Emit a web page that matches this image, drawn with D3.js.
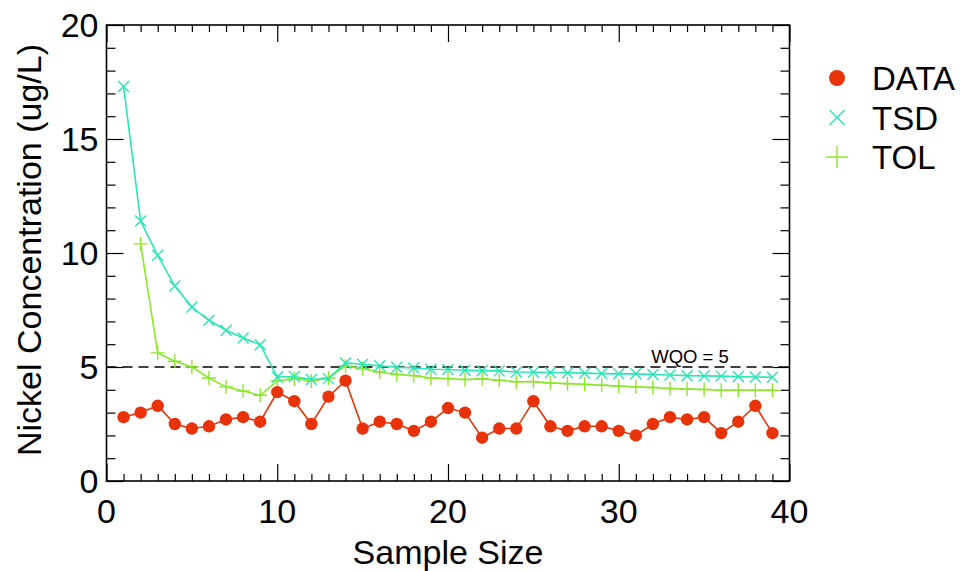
<!DOCTYPE html>
<html><head><meta charset="utf-8">
<script src="https://cdn.jsdelivr.net/npm/d3@7"></script>
<style>body{margin:0;background:#fff}svg{display:block;font-family:"Liberation Sans",Arial,sans-serif}</style>
</head><body><svg id="c" width="970" height="571"></svg>
<script>
const sampleSize = d3.range(1, 40);
const dataVals = [2.8,3.0,3.3,2.5,2.3,2.4,2.7,2.8,2.6,3.9,3.5,2.5,3.7,4.4,2.3,2.6,2.5,2.2,2.6,3.2,3.0,1.9,2.3,2.3,3.5,2.4,2.2,2.4,2.4,2.2,2.0,2.5,2.8,2.7,2.8,2.1,2.6,3.3,2.1];
const tsdVals = [17.3,11.4,9.9,8.55,7.63,7.05,6.61,6.27,5.98,4.56,4.58,4.45,4.49,5.18,5.12,5.05,4.99,4.96,4.90,4.89,4.86,4.84,4.83,4.78,4.77,4.76,4.75,4.73,4.71,4.70,4.70,4.67,4.65,4.62,4.61,4.60,4.58,4.56,4.55];
const tolX = d3.range(2, 40);
const tolVals = [10.4,5.62,5.25,5.0,4.52,4.13,3.95,3.76,4.39,4.49,4.39,4.52,5.05,4.93,4.78,4.67,4.62,4.52,4.49,4.45,4.48,4.42,4.35,4.36,4.30,4.27,4.24,4.20,4.16,4.13,4.10,4.06,4.03,4.01,3.98,3.98,3.98,3.98];
const wqo = 5;
const xTicks = [0,10,20,30,40];
const yTicks = [0,5,10,15,20];
const seriesNames = ["DATA","TSD","TOL"];

const colors = {DATA:"#e8320a", TSD:"#2ae6b6", TOL:"#8ee62c"};
const svg = d3.select("#c");
const L=106.5, R=789.5, T=25, B=481;
const x = d3.scaleLinear().domain([0,40]).range([L,R]);
const y = d3.scaleLinear().domain([0,20]).range([B,T]);

// WQO dashed line
svg.append("line").attr("x1",x(0)).attr("x2",x(40)).attr("y1",y(wqo)).attr("y2",y(wqo))
  .attr("stroke","#000").attr("stroke-width",1.6).attr("stroke-dasharray","10,6");
svg.append("text").attr("x",x(31.9)).attr("y",y(wqo)-4).attr("font-size",18.5).text("WQO = " + wqo);

// axes with ticks all around
function tickAxis(axisFn, scale, minorVals, majorVals, transform, lenMinor, lenMajor){
  const gm = svg.append("g").attr("transform",transform)
    .call(axisFn(scale).tickValues(minorVals.filter(v=>!majorVals.includes(v))).tickSize(lenMinor).tickFormat(""));
  gm.select(".domain").remove();
  const gM = svg.append("g").attr("transform",transform)
    .call(axisFn(scale).tickValues(majorVals).tickSize(lenMajor).tickFormat(""));
  gM.select(".domain").remove();
  svg.selectAll("g .tick line").attr("stroke","#000").attr("stroke-width",1.2);
}
const xMinor = d3.range(0,41), yMinor = d3.range(0,21);
tickAxis(d3.axisTop, x, xMinor, xTicks, `translate(0,${B})`, 7, 17);
tickAxis(d3.axisBottom, x, xMinor, xTicks, `translate(0,${T})`, 7, 17);
tickAxis(d3.axisRight, y, yMinor, yTicks, `translate(${L},0)`, 9, 17);
tickAxis(d3.axisLeft, y, yMinor, yTicks, `translate(${R},0)`, 9, 17);

svg.append("rect").attr("x",L).attr("y",T).attr("width",R-L).attr("height",B-T)
  .attr("fill","none").attr("stroke","#000").attr("stroke-width",1.6);

// tick labels
svg.selectAll(".xl").data(xTicks).enter().append("text").attr("x",d=>x(d)).attr("y",B+42)
  .attr("text-anchor","middle").attr("font-size",34).text(d=>d);
svg.selectAll(".yl").data(yTicks).enter().append("text").attr("x",L-8).attr("y",d=>y(d)+12)
  .attr("text-anchor","end").attr("font-size",34).text(d=>d);
svg.append("text").attr("x",(L+R)/2).attr("y",564).attr("text-anchor","middle").attr("font-size",34).text("Sample Size");
svg.append("text").attr("transform",`translate(41,250) rotate(-90)`).attr("text-anchor","middle")
  .attr("font-size",34).text("Nickel Concentration (ug/L)");

const line = d3.line().x(d=>x(d[0])).y(d=>y(d[1]));
const dataPts = sampleSize.map((s,i)=>[s,dataVals[i]]);
const tsdPts = sampleSize.map((s,i)=>[s,tsdVals[i]]);
const tolPts = tolX.map((s,i)=>[s,tolVals[i]]);

function crossPath(cx,cy,h){return `M${cx-h},${cy-h}L${cx+h},${cy+h}M${cx-h},${cy+h}L${cx+h},${cy-h}`;}
function plusPath(cx,cy,h){return `M${cx-h},${cy}L${cx+h},${cy}M${cx},${cy-h}L${cx},${cy+h}`;}

// TOL
svg.append("path").attr("d",line(tolPts)).attr("fill","none").attr("stroke",colors.TOL).attr("stroke-width",1.6);
svg.selectAll(".tolm").data(tolPts).enter().append("path").attr("d",d=>plusPath(x(d[0]),y(d[1]),7))
  .attr("stroke",colors.TOL).attr("stroke-width",1.4).attr("fill","none");
// TSD
svg.append("path").attr("d",line(tsdPts)).attr("fill","none").attr("stroke",colors.TSD).attr("stroke-width",1.6);
svg.selectAll(".tsdm").data(tsdPts).enter().append("path").attr("d",d=>crossPath(x(d[0]),y(d[1]),5.5))
  .attr("stroke",colors.TSD).attr("stroke-width",1.4).attr("fill","none");
// DATA
svg.append("path").attr("d",line(dataPts)).attr("fill","none").attr("stroke",colors.DATA).attr("stroke-width",1.6);
svg.selectAll(".dm").data(dataPts).enter().append("circle").attr("cx",d=>x(d[0])).attr("cy",d=>y(d[1])).attr("r",6.2)
  .attr("fill",colors.DATA);

// legend
const lg = svg.append("g");
seriesNames.forEach((n,i)=>{
  const cy = 78 + i*39.5;
  if(n==="DATA") lg.append("circle").attr("cx",837).attr("cy",cy).attr("r",8).attr("fill",colors.DATA);
  if(n==="TSD") lg.append("path").attr("d",crossPath(837,cy,7.5)).attr("stroke",colors.TSD).attr("stroke-width",1.4);
  if(n==="TOL") lg.append("path").attr("d",plusPath(837,cy,11)).attr("stroke",colors.TOL).attr("stroke-width",1.4);
  lg.append("text").attr("x",872).attr("y",cy+12).attr("font-size",33).text(n);
});
</script></body></html>
